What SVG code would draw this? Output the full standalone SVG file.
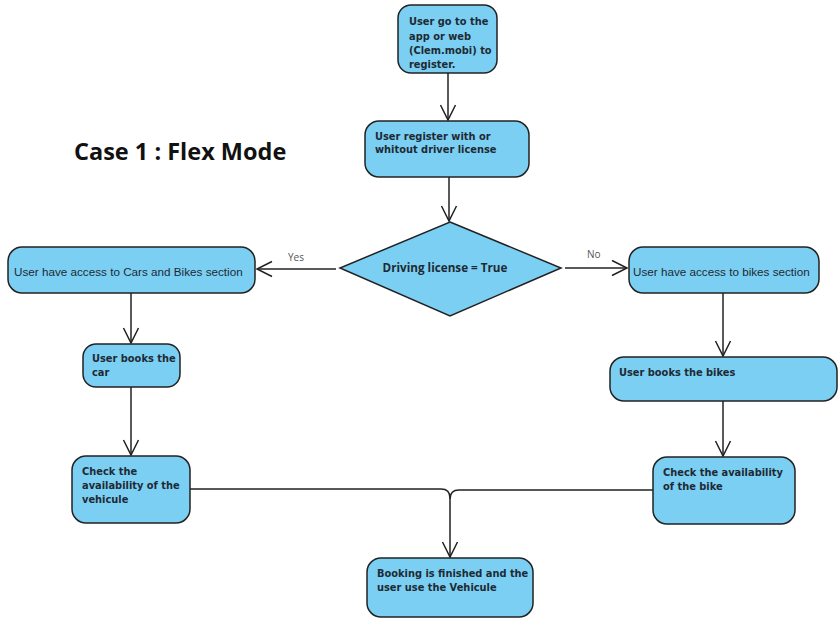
<svg xmlns="http://www.w3.org/2000/svg" width="838" height="619" viewBox="0 0 838 619">
  <defs>
    <marker id="open-arrow" viewBox="0 0 18 18" refX="16" refY="9" markerWidth="18" markerHeight="18" markerUnits="userSpaceOnUse" orient="auto">
      <path d="M1,1.5 L16,9 L1,16.5" fill="none" stroke="#222" stroke-width="1.5"/>
    </marker>
    <style>
      .box { fill: #7bcff3; stroke: #222; stroke-width: 1.5; }
      .lbl { font-family: "DejaVu Sans", "Liberation Sans", sans-serif; font-weight: bold; font-size: 9.85px; fill: #1e2a33; }
      .plain { font-family: "Liberation Sans", "DejaVu Sans", sans-serif; font-size: 11.7px; fill: #1e2a33; }
      .decision { font-family: "Open Sans", "Liberation Sans", sans-serif; font-weight: bold; font-size: 11.7px; fill: #1e2a33; }
      .edge { fill: none; stroke: #222; stroke-width: 1.5; }
      .guard { font-family: "Open Sans", "Liberation Sans", sans-serif; font-size: 10px; fill: #555; }
      .title { font-family: "Open Sans", "Liberation Sans", sans-serif; font-weight: bold; font-size: 23.5px; fill: #111; }
    </style>
  </defs>

  <rect width="838" height="619" fill="#fff"/>

  <text class="title" x="74" y="160">Case 1 : Flex Mode</text>

  <g id="connectors">
    <path class="edge" d="M448,73 V120" marker-end="url(#open-arrow)"/>
    <path class="edge" d="M449,177 V221" marker-end="url(#open-arrow)"/>
    <path class="edge" d="M336,269 H257" marker-end="url(#open-arrow)"/>
    <path class="edge" d="M565,268 H627" marker-end="url(#open-arrow)"/>
    <path class="edge" d="M131,293 V343" marker-end="url(#open-arrow)"/>
    <path class="edge" d="M131,387 V455" marker-end="url(#open-arrow)"/>
    <path class="edge" d="M723,293 V356" marker-end="url(#open-arrow)"/>
    <path class="edge" d="M723,401 V456" marker-end="url(#open-arrow)"/>
    <path class="edge" d="M190,489 H441 Q450,489 450,498 V557" marker-end="url(#open-arrow)"/>
    <path class="edge" d="M653,490 H459 Q450,490 450,499"/>
    <text class="guard" x="288" y="261">Yes</text>
    <text class="guard" x="587" y="258">No</text>
  </g>

  <g id="start-register-app">
    <rect class="box" x="398" y="5" width="99" height="68" rx="13"/>
    <text class="lbl" x="409" y="25">User go to the</text>
    <text class="lbl" x="409" y="39.5">app or web</text>
    <text class="lbl" x="409" y="54">(Clem.mobi) to</text>
    <text class="lbl" x="409" y="68">register.</text>
  </g>

  <g id="register-license">
    <rect class="box" x="365" y="121" width="164" height="56" rx="14"/>
    <text class="lbl" x="375" y="140">User register with or</text>
    <text class="lbl" x="375" y="153">whitout driver license</text>
  </g>

  <g id="decision-license">
    <polygon class="box" points="450,222 561,268 450,316 340,268"/>
    <text class="decision" x="445" y="272" text-anchor="middle">Driving license = True</text>
  </g>

  <g id="access-cars-bikes">
    <rect class="box" x="8" y="247" width="247" height="46" rx="14"/>
    <text class="plain" x="14" y="276">User have access to Cars and Bikes section</text>
  </g>

  <g id="access-bikes">
    <rect class="box" x="629" y="247" width="190" height="46" rx="14"/>
    <text class="plain" x="633" y="276">User have access to bikes section</text>
  </g>

  <g id="book-car">
    <rect class="box" x="83" y="344" width="97" height="43" rx="13"/>
    <text class="lbl" x="92" y="362">User books the</text>
    <text class="lbl" x="92" y="376">car</text>
  </g>

  <g id="book-bikes">
    <rect class="box" x="610" y="357" width="227" height="44" rx="14"/>
    <text class="lbl" x="619" y="376">User books the bikes</text>
  </g>

  <g id="check-vehicule">
    <rect class="box" x="72" y="456" width="118" height="67" rx="14"/>
    <text class="lbl" x="82" y="475">Check the</text>
    <text class="lbl" x="82" y="489">availability of the</text>
    <text class="lbl" x="82" y="503">vehicule</text>
  </g>

  <g id="check-bike">
    <rect class="box" x="653" y="457" width="142" height="67" rx="14"/>
    <text class="lbl" x="663" y="476">Check the availability</text>
    <text class="lbl" x="663" y="490">of the bike</text>
  </g>

  <g id="booking-finished">
    <rect class="box" x="367" y="558" width="166" height="59" rx="14"/>
    <text class="lbl" x="377" y="577">Booking is finished and the</text>
    <text class="lbl" x="377" y="591">user use the Vehicule</text>
  </g>
</svg>
